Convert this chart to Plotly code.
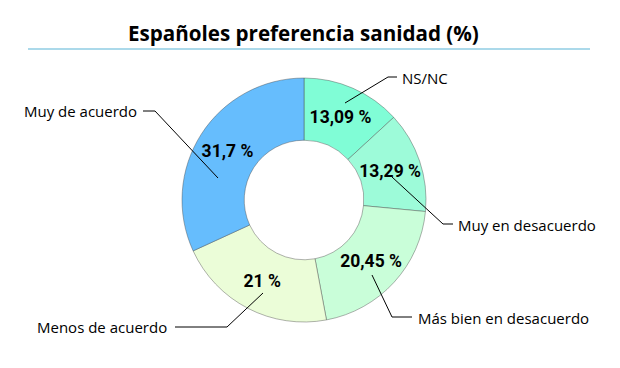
import plotly.graph_objects as go

W, H = 620, 368

categories = ["NS/NC", "Muy en desacuerdo", "Más bien en desacuerdo", "Menos de acuerdo", "Muy de acuerdo"]
values = [13.09, 13.29, 20.45, 21.0, 31.7]
value_labels = ["13,09 %", "13,29 %", "20,45 %", "21 %", "31,7 %"]
colors = ["#80fdd6", "#9dfbd9", "#c9fed9", "#ebfdd8", "#66bdfd"]

def px(x):
    return x / W

def py(y):
    return (H - y) / H

cx, cy, R = 304, 200, 122

fig = go.Figure()
fig.add_trace(go.Pie(
    labels=categories,
    values=values,
    text=value_labels,
    texttemplate="%{text}",
    textinfo="text",
    textposition="inside",
    insidetextorientation="horizontal",
    textfont=dict(family="Roboto", size=17.5, color="black", weight="bold"),
    hole=0.49,
    sort=False,
    direction="clockwise",
    rotation=0,
    marker=dict(colors=colors, line=dict(color="rgba(70,70,70,0.7)", width=0.6)),
    domain=dict(x=[px(cx - R), px(cx + R)], y=[py(cy + R), py(cy - R)]),
    showlegend=False,
    hoverinfo="label+percent",
))

# label positions (pixel layout) and leader-line polylines
label_specs = [
    # (text, x, y, xanchor, polyline points)
    ("NS/NC", 400, 78, "left", [(397, 77), (388, 77), (345, 103)]),
    ("Muy en desacuerdo", 456, 225, "left", [(453, 224), (443, 224), (392, 177)]),
    ("Más bien en desacuerdo", 416, 318, "left", [(412, 317), (392, 317), (372, 275)]),
    ("Menos de acuerdo", 169, 327, "right", [(175, 327), (227, 327), (263, 293)]),
    ("Muy de acuerdo", 139, 111, "right", [(143, 111), (155, 111), (218, 178)]),
]

annotations = []
shapes = []
for cat, (text, x, y, anchor, pts) in zip(categories, label_specs):
    annotations.append(dict(
        text=cat, x=px(x), y=py(y), xref="paper", yref="paper",
        xanchor=anchor, yanchor="middle", showarrow=False,
        font=dict(family="Open Sans", size=15, color="black"),
    ))
    path = "M " + " L ".join(f"{px(a)},{py(b)}" for a, b in pts)
    shapes.append(dict(type="path", path=path, xref="paper", yref="paper",
                       line=dict(color="black", width=1)))

# title rule
shapes.append(dict(type="line", xref="paper", yref="paper",
                   x0=px(28), x1=px(590), y0=py(49), y1=py(49),
                   line=dict(color="#8fcde3", width=1.5)))

annotations.append(dict(
    text="<b>Españoles preferencia sanidad (%)</b>", x=px(303), y=py(33),
    xref="paper", yref="paper", xanchor="center", yanchor="middle",
    showarrow=False, font=dict(family="Open Sans", size=20.6, color="black"),
))

fig.update_layout(
    width=W, height=H,
    margin=dict(l=0, r=0, t=0, b=0),
    paper_bgcolor="white", plot_bgcolor="white",
    annotations=annotations, shapes=shapes,
    uniformtext=dict(minsize=17, mode="show"),
)

fig.write_html("out.html", config={"displayModeBar": False},
               post_script="document.body.style.margin='0';")
